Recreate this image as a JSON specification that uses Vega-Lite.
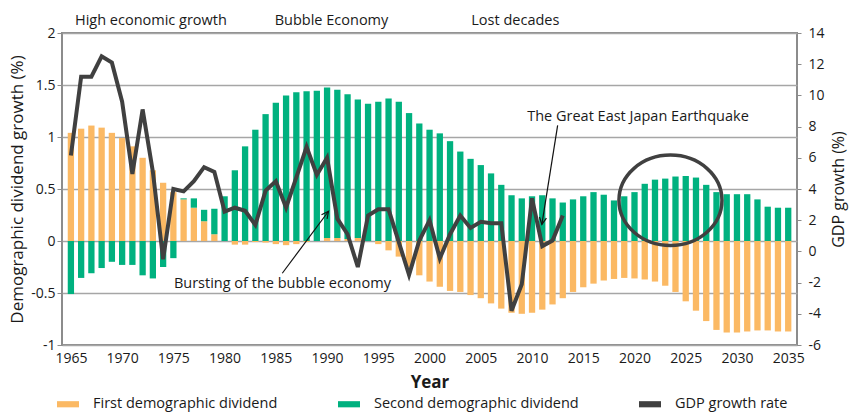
{
  "$schema": "https://vega.github.io/schema/vega-lite/v6.json",
  "width": 735,
  "height": 312,
  "autosize": {"type": "none"},
  "padding": {"left": 62, "top": 33, "right": 54, "bottom": 67},
  "config": {
    "font": "Open Sans",
    "view": {"stroke": "#8c8c8c", "strokeWidth": 2},
    "axis": {"labelColor": "#1a1a1a", "titleColor": "#1a1a1a", "titleFontWeight": "normal", "labelFontSize": 14, "titleFontSize": 16, "tickColor": "#8c8c8c"},
    "axisY": {"domain": false},
    "axisX": {"domain": false, "ticks": false, "grid": false}
  },
  "datasets": {
    "main": [
      {"year": 1965, "first": 1.04, "second": -0.51, "gdp": 6.15},
      {"year": 1966, "first": 1.08, "second": -0.355, "gdp": 11.2},
      {"year": 1967, "first": 1.11, "second": -0.31, "gdp": 11.2},
      {"year": 1968, "first": 1.09, "second": -0.26, "gdp": 12.5},
      {"year": 1969, "first": 1.04, "second": -0.2, "gdp": 12.1},
      {"year": 1970, "first": 0.99, "second": -0.23, "gdp": 9.6},
      {"year": 1971, "first": 0.91, "second": -0.23, "gdp": 4.97},
      {"year": 1972, "first": 0.8, "second": -0.33, "gdp": 9.1},
      {"year": 1973, "first": 0.68, "second": -0.36, "gdp": 5.1},
      {"year": 1974, "first": 0.56, "second": -0.25, "gdp": -0.5},
      {"year": 1975, "first": 0.47, "second": -0.165, "gdp": 4.0},
      {"year": 1976, "first": 0.4, "second": 0.01, "gdp": 3.85},
      {"year": 1977, "first": 0.32, "second": 0.09, "gdp": 4.5},
      {"year": 1978, "first": 0.19, "second": 0.11, "gdp": 5.4},
      {"year": 1979, "first": 0.065, "second": 0.245, "gdp": 5.1},
      {"year": 1980, "first": 0.0, "second": 0.43, "gdp": 2.55},
      {"year": 1981, "first": -0.035, "second": 0.68, "gdp": 2.8},
      {"year": 1982, "first": -0.035, "second": 0.91, "gdp": 2.6},
      {"year": 1983, "first": -0.01, "second": 1.07, "gdp": 1.7},
      {"year": 1984, "first": -0.015, "second": 1.22, "gdp": 3.9},
      {"year": 1985, "first": -0.03, "second": 1.33, "gdp": 4.5},
      {"year": 1986, "first": -0.04, "second": 1.4, "gdp": 2.8},
      {"year": 1987, "first": -0.03, "second": 1.43, "gdp": 4.75},
      {"year": 1988, "first": -0.01, "second": 1.44, "gdp": 6.7},
      {"year": 1989, "first": 0.0, "second": 1.445, "gdp": 4.9},
      {"year": 1990, "first": 0.03, "second": 1.445, "gdp": 6.0},
      {"year": 1991, "first": 0.03, "second": 1.425, "gdp": 2.1},
      {"year": 1992, "first": 0.02, "second": 1.39, "gdp": 1.1},
      {"year": 1993, "first": 0.03, "second": 1.33, "gdp": -1.0},
      {"year": 1994, "first": 0.0, "second": 1.32, "gdp": 2.3},
      {"year": 1995, "first": -0.03, "second": 1.34, "gdp": 2.7},
      {"year": 1996, "first": -0.09, "second": 1.37, "gdp": 2.7},
      {"year": 1997, "first": -0.15, "second": 1.34, "gdp": 0.6},
      {"year": 1998, "first": -0.25, "second": 1.23, "gdp": -1.5},
      {"year": 1999, "first": -0.33, "second": 1.13, "gdp": 0.7},
      {"year": 2000, "first": -0.39, "second": 1.07, "gdp": 2.0},
      {"year": 2001, "first": -0.44, "second": 1.035, "gdp": -0.45},
      {"year": 2002, "first": -0.48, "second": 0.96, "gdp": 1.1},
      {"year": 2003, "first": -0.49, "second": 0.86, "gdp": 2.3},
      {"year": 2004, "first": -0.52, "second": 0.79, "gdp": 1.5},
      {"year": 2005, "first": -0.55, "second": 0.73, "gdp": 1.9},
      {"year": 2006, "first": -0.6, "second": 0.65, "gdp": 1.8},
      {"year": 2007, "first": -0.65, "second": 0.54, "gdp": 1.8},
      {"year": 2008, "first": -0.69, "second": 0.44, "gdp": -3.8},
      {"year": 2009, "first": -0.7, "second": 0.41, "gdp": -2.1},
      {"year": 2010, "first": -0.69, "second": 0.43, "gdp": 3.4},
      {"year": 2011, "first": -0.66, "second": 0.44, "gdp": 0.34},
      {"year": 2012, "first": -0.61, "second": 0.41, "gdp": 0.7},
      {"year": 2013, "first": -0.55, "second": 0.37, "gdp": 2.3},
      {"year": 2014, "first": -0.49, "second": 0.4, "gdp": null},
      {"year": 2015, "first": -0.445, "second": 0.43, "gdp": null},
      {"year": 2016, "first": -0.41, "second": 0.47, "gdp": null},
      {"year": 2017, "first": -0.38, "second": 0.445, "gdp": null},
      {"year": 2018, "first": -0.365, "second": 0.39, "gdp": null},
      {"year": 2019, "first": -0.355, "second": 0.43, "gdp": null},
      {"year": 2020, "first": -0.36, "second": 0.47, "gdp": null},
      {"year": 2021, "first": -0.37, "second": 0.55, "gdp": null},
      {"year": 2022, "first": -0.39, "second": 0.59, "gdp": null},
      {"year": 2023, "first": -0.43, "second": 0.6, "gdp": null},
      {"year": 2024, "first": -0.49, "second": 0.62, "gdp": null},
      {"year": 2025, "first": -0.58, "second": 0.625, "gdp": null},
      {"year": 2026, "first": -0.67, "second": 0.61, "gdp": null},
      {"year": 2027, "first": -0.77, "second": 0.54, "gdp": null},
      {"year": 2028, "first": -0.855, "second": 0.47, "gdp": null},
      {"year": 2029, "first": -0.88, "second": 0.45, "gdp": null},
      {"year": 2030, "first": -0.88, "second": 0.45, "gdp": null},
      {"year": 2031, "first": -0.87, "second": 0.45, "gdp": null},
      {"year": 2032, "first": -0.86, "second": 0.4, "gdp": null},
      {"year": 2033, "first": -0.86, "second": 0.33, "gdp": null},
      {"year": 2034, "first": -0.87, "second": 0.32, "gdp": null},
      {"year": 2035, "first": -0.87, "second": 0.32, "gdp": null}
    ],
    "notes": [
      {"label": "High economic growth", "x": 1972.81, "y": 2.074},
      {"label": "Bubble Economy", "x": 1990.43, "y": 2.074},
      {"label": "Lost decades", "x": 2008.37, "y": 2.074},
      {"label": "Bursting of the bubble economy", "x": 1985.64, "y": -0.455},
      {"label": "The Great East Japan Earthquake", "x": 2020.34, "y": 1.154}
    ],
    "arrows": [
      {"id": "bubble", "x0": 1985.63, "y0": -0.31, "x1": 1990.14, "y1": 0.286},
      {"id": "quake", "x0": 2012.5, "y0": 1.1125, "x1": 2010.96, "y1": 0.159}
    ],
    "circle": [
      {"x": 2023.51, "y": 0.391}
    ]
  },
  "layer": [
    {
      "data": {"name": "main"},
      "transform": [{"fold": ["first", "second"], "as": ["series", "value"]}],
      "mark": {"type": "bar", "size": 6.3},
      "encoding": {
        "x": {
          "field": "year", "type": "quantitative",
          "scale": {"domain": [1964.62, 2035.37], "nice": false, "zero": false},
          "title": "Year",
          "axis": {"values": [1965, 1970, 1975, 1980, 1985, 1990, 1995, 2000, 2005, 2010, 2015, 2020, 2025, 2030, 2035], "format": "d", "labelFlush": false, "labelOverlap": false, "titleFontWeight": "bold", "titleFontSize": 17, "labelPadding": 6, "titlePadding": 9}
        },
        "y": {
          "field": "value", "type": "quantitative", "stack": "zero",
          "scale": {"domain": [-1, 2], "nice": false},
          "axis": {"orient": "left", "values": [-1, -0.5, 0, 0.5, 1, 1.5, 2], "labelExpr": "'' + datum.value", "title": "Demographic dividend growth (%)", "titleFontSize": 17, "grid": true, "gridColor": "#a6a6a6", "gridWidth": 1.3, "tickSize": 5, "labelPadding": 2, "titlePadding": 4}
        },
        "color": {
          "field": "series", "type": "nominal",
          "scale": {"domain": ["first", "second", "gdp"], "range": ["#FBB964", "#00B17F", "#404040"]},
          "legend": {
            "orient": "none", "legendX": -5, "legendY": 360, "direction": "horizontal", "title": null,
            "symbolType": "M-1,-0.28L1,-0.28L1,0.28L-1,0.28Z", "symbolSize": 484, "symbolStrokeWidth": 0,
            "labelFontSize": 14.5, "labelOffset": 14, "columnPadding": 60, "padding": 0, "labelColor": "#1a1a1a", "labelLimit": 400,
            "labelExpr": "datum.value == 'first' ? 'First demographic dividend' : datum.value == 'second' ? 'Second demographic dividend' : 'GDP growth rate'"
          }
        },
        "order": {"field": "series", "sort": "ascending"}
      }
    },
    {
      "data": {"name": "notes"},
      "mark": {"type": "text", "align": "center", "baseline": "alphabetic", "fontSize": 14.5, "color": "#1a1a1a"},
      "encoding": {
        "x": {"field": "x", "type": "quantitative", "title": "Year"},
        "y": {"field": "y", "type": "quantitative", "scale": {"domain": [-1, 2], "nice": false}, "axis": null},
        "text": {"field": "label"}
      }
    },
    {
      "data": {"name": "arrows"},
      "mark": {"type": "rule", "color": "#111111", "strokeWidth": 1.2},
      "encoding": {
        "x": {"field": "x0", "type": "quantitative", "title": "Year"},
        "y": {"field": "y0", "type": "quantitative", "scale": {"domain": [-1, 2], "nice": false}, "axis": null},
        "x2": {"field": "x1"},
        "y2": {"field": "y1"}
      }
    },
    {
      "data": {"name": "arrows"},
      "transform": [{"filter": "datum.id == 'bubble'"}],
      "mark": {"type": "point", "shape": "M-0.5,1L0,0L0.5,1", "size": 196, "angle": 37, "filled": false, "stroke": "#111111", "strokeWidth": 1.2, "opacity": 1},
      "encoding": {
        "x": {"field": "x1", "type": "quantitative", "title": "Year"},
        "y": {"field": "y1", "type": "quantitative", "scale": {"domain": [-1, 2], "nice": false}, "axis": null}
      }
    },
    {
      "data": {"name": "arrows"},
      "transform": [{"filter": "datum.id == 'quake'"}],
      "mark": {"type": "point", "shape": "M-0.5,1L0,0L0.5,1", "size": 196, "angle": 189, "filled": false, "stroke": "#111111", "strokeWidth": 1.2, "opacity": 1},
      "encoding": {
        "x": {"field": "x1", "type": "quantitative", "title": "Year"},
        "y": {"field": "y1", "type": "quantitative", "scale": {"domain": [-1, 2], "nice": false}, "axis": null}
      }
    },
    {
      "data": {"name": "circle"},
      "mark": {"type": "point", "shape": "M-1,0A1,0.878,0,1,0,1,0A1,0.878,0,1,0,-1,0Z", "size": 10609, "filled": false, "stroke": "#404040", "strokeWidth": 3.5, "opacity": 1},
      "encoding": {
        "x": {"field": "x", "type": "quantitative", "title": "Year"},
        "y": {"field": "y", "type": "quantitative", "scale": {"domain": [-1, 2], "nice": false}, "axis": null}
      }
    },
    {
      "data": {"name": "main"},
      "mark": {"type": "line", "color": "#404040", "strokeWidth": 4},
      "encoding": {
        "x": {"field": "year", "type": "quantitative", "title": "Year"},
        "y": {
          "field": "gdp", "type": "quantitative",
          "scale": {"domain": [-6, 14], "nice": false},
          "axis": {"orient": "right", "values": [-6, -4, -2, 0, 2, 4, 6, 8, 10, 12, 14], "labelExpr": "'' + datum.value", "title": "GDP growth (%)", "titleAngle": -90, "grid": false, "tickSize": 4, "labelPadding": 7, "titlePadding": 22}
        }
      }
    }
  ],
  "resolve": {"scale": {"y": "independent"}}
}
